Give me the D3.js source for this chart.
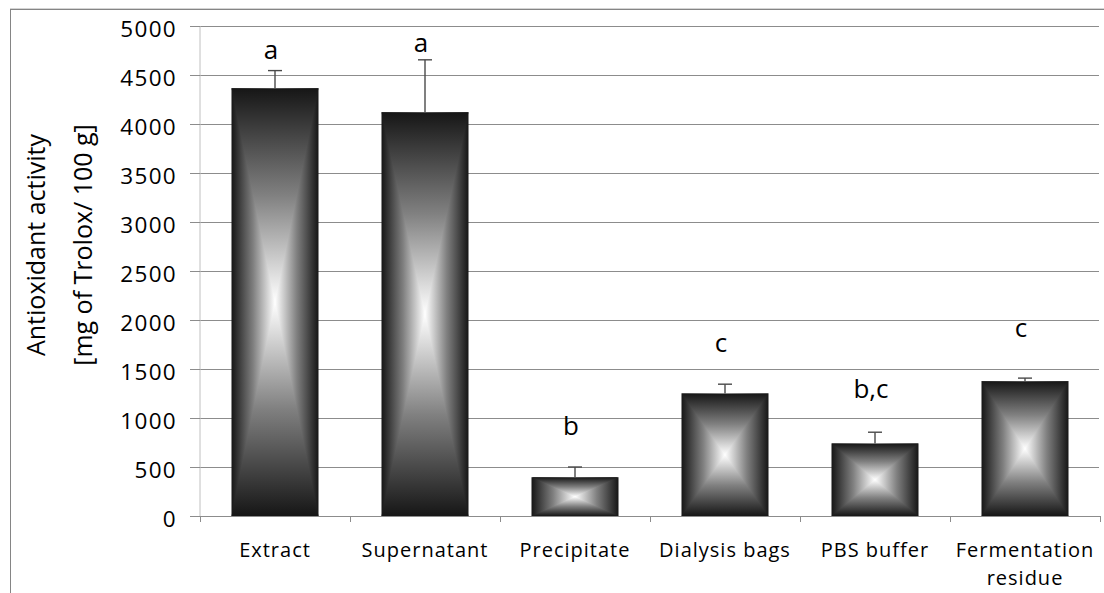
<!DOCTYPE html>
<html>
<head>
<meta charset="utf-8">
<script src="https://cdn.jsdelivr.net/npm/d3@7"></script>
<style>
  body { margin: 0; background: #fff; }
  svg { display: block; }
  text { font-family: "Open Sans", sans-serif; fill: #000; }
</style>
</head>
<body>
<div id="chart"></div>
<script>
// data
const categories = ["Extract", "Supernatant", "Precipitate", "Dialysis bags", "PBS buffer", "Fermentation residue"];
const values = [4365, 4120, 395, 1250, 740, 1375];
const errors = [180, 535, 105, 95, 115, 32];
const letters = ["a", "a", "b", "c", "b,c", "c"];
const letterLevel = [4663, 4735, 827, 1670, 1201, 1823];
const yTicks = [0, 500, 1000, 1500, 2000, 2500, 3000, 3500, 4000, 4500, 5000];

const W = 1104, H = 593;
const svg = d3.select("#chart").append("svg").attr("width", W).attr("height", H);

// gradients for the "from centre" bar fill
const defs = svg.append("defs");
const dark = "#161616", mid = "#808080", light = "#ffffff";
// horizontal, symmetric: covers the left and right triangles
const gh = defs.append("linearGradient").attr("id", "gH")
  .attr("x1", 0).attr("y1", 0).attr("x2", 1).attr("y2", 0);
[[0, dark], [0.25, mid], [0.5, light], [0.75, mid], [1, dark]].forEach(s =>
  gh.append("stop").attr("offset", s[0]).attr("stop-color", s[1]));
// top and bottom triangles
[{id: "gT", y1: 0, y2: 1}, {id: "gB", y1: 1, y2: 0}].forEach(g => {
  const lg = defs.append("linearGradient").attr("id", g.id)
    .attr("x1", 0).attr("y1", g.y1).attr("x2", 0).attr("y2", g.y2);
  lg.append("stop").attr("offset", 0).attr("stop-color", dark);
  lg.append("stop").attr("offset", 0.5).attr("stop-color", mid);
  lg.append("stop").attr("offset", 1).attr("stop-color", light);
});

// frame
svg.append("line").attr("x1", 10).attr("x2", W).attr("y1", 8.5).attr("y2", 8.5)
   .attr("stroke", "#d4d4d4");
svg.append("line").attr("x1", 10).attr("x2", W).attr("y1", 9.5).attr("y2", 9.5)
   .attr("stroke", "#858585");
svg.append("line").attr("x1", 10.5).attr("x2", 10.5).attr("y1", 9).attr("y2", H)
   .attr("stroke", "#858585");

// scales
const x = d3.scaleBand().domain(categories).range([200, 1100])
            .paddingInner(0.42).paddingOuter(0.21);
const y = d3.scaleLinear().domain([0, 5000]).range([516, 26]);

// gridlines
svg.append("g").selectAll("line").data(yTicks.filter(d => d > 0)).enter()
   .append("line")
   .attr("x1", 200).attr("x2", 1099)
   .attr("y1", d => y(d)).attr("y2", d => y(d))
   .attr("stroke", "#8c8c8c").attr("shape-rendering", "crispEdges");

// y axis
const yAxis = d3.axisLeft(y).tickValues(yTicks).tickFormat(d3.format("d"))
                .tickSize(10).tickPadding(13);
const gy = svg.append("g").attr("transform", "translate(200,0)").call(yAxis);
gy.select(".domain").attr("stroke", "#c0c0c0").attr("d", "M0," + y(5000) + "V" + y(0));
gy.selectAll(".tick line").attr("stroke", "#8c8c8c").attr("shape-rendering", "crispEdges");
gy.selectAll(".tick text")
  .attr("font-family", "Open Sans").attr("font-size", 22.5)
  .attr("letter-spacing", "1.3px").attr("dy", "0.45em").attr("fill", "#000");

// x axis baseline and boundary ticks
svg.append("line").attr("x1", 190).attr("x2", 1100).attr("y1", y(0)).attr("y2", y(0))
   .attr("stroke", "#8c8c8c").attr("shape-rendering", "crispEdges");
const bounds = categories.map(c => x(c) - x.step() * x.paddingInner() / 2);
bounds.push(1100);
svg.append("g").selectAll("line").data(bounds).enter().append("line")
   .attr("x1", d => d).attr("x2", d => d)
   .attr("y1", y(0)).attr("y2", y(0) + 6)
   .attr("stroke", "#8c8c8c").attr("shape-rendering", "crispEdges");

// bars: horizontal gradient rect, then top/bottom triangles on it
const bw = x.bandwidth();
const bars = svg.append("g").selectAll("g").data(categories).enter().append("g");
bars.append("rect")
    .attr("x", d => x(d)).attr("y", (d, i) => y(values[i]))
    .attr("width", bw).attr("height", (d, i) => y(0) - y(values[i]))
    .attr("fill", "url(#gH)");
bars.each(function(d, i) {
  const x0 = x(d), x1 = x(d) + bw, y0 = y(values[i]), y1 = y(0);
  const cx = (x0 + x1) / 2, cy = (y0 + y1) / 2;
  const g = d3.select(this);
  g.append("polygon").attr("points", [[x0, y0], [x1, y0], [cx, cy]].map(q => q.join(",")).join(" "))
   .attr("fill", "url(#gT)");
  g.append("polygon").attr("points", [[x0, y1], [x1, y1], [cx, cy]].map(q => q.join(",")).join(" "))
   .attr("fill", "url(#gB)");
});

// error bars (upper only)
const eb = svg.append("g").attr("stroke", "#4a4a4a").attr("stroke-width", 1.4);
categories.forEach((c, i) => {
  const cx = x(c) + bw / 2;
  eb.append("line").attr("x1", cx).attr("x2", cx)
    .attr("y1", y(values[i])).attr("y2", y(values[i] + errors[i]));
  eb.append("line").attr("x1", cx - 7).attr("x2", cx + 7)
    .attr("y1", y(values[i] + errors[i])).attr("y2", y(values[i] + errors[i]));
});

// significance letters
svg.append("g").selectAll("text").data(letters).enter().append("text")
   .attr("x", (d, i) => x(categories[i]) + bw / 2 - 4)
   .attr("y", (d, i) => y(letterLevel[i]))
   .attr("text-anchor", "middle").attr("font-size", 26)
   .text(d => d);

// category labels, wrapped when wider than a band
const labels = svg.append("g").selectAll("text").data(categories).enter().append("text")
   .attr("x", d => x(d) + bw / 2)
   .attr("y", 557)
   .attr("text-anchor", "middle").attr("font-size", 20)
   .attr("letter-spacing", "1px");
labels.each(function(d) {
  const t = d3.select(this);
  t.text(d);
  if (this.getComputedTextLength() > x.step()) {
    const words = d.split(" ");
    t.text(null);
    words.forEach((w, k) => {
      t.append("tspan").attr("x", x(d) + bw / 2).attr("dy", k === 0 ? 0 : 28).text(w);
    });
  }
});

// y axis title
const yt = svg.append("text").attr("transform", "translate(45,245) rotate(-90)")
   .attr("text-anchor", "middle").attr("font-size", 25);
yt.append("tspan").attr("x", 0).attr("dy", 0).text("Antioxidant activity");
yt.append("tspan").attr("x", 0).attr("dy", 47).text("[mg of Trolox/ 100 g]");
</script>
</body>
</html>
